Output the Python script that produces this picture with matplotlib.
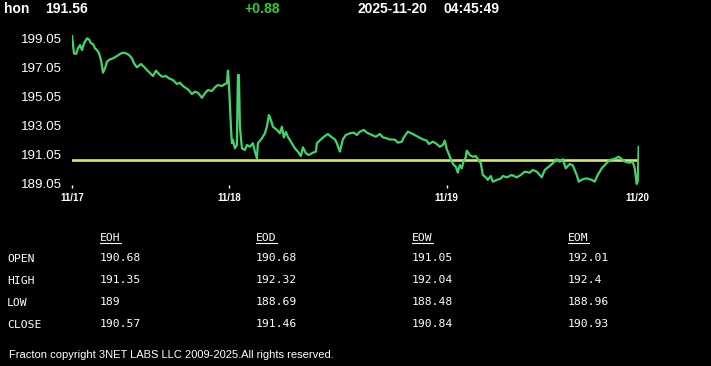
import matplotlib
matplotlib.use('Agg')
import matplotlib.pyplot as plt
from matplotlib.lines import Line2D

# quote header
symbol = 'hon'
last_price = '191.56'
change = '+0.88'
stamp_date = '2025-11-20'
stamp_time = '04:45:49'
prev_close = 190.68

# intraday series (sample number, price)
samples = [0, 2, 4, 6, 8, 10, 12, 15, 17, 19, 21, 23, 25, 27, 29, 31, 33, 35, 38, 41,
           45, 48, 51, 54, 57, 60, 62, 65, 69, 72, 75, 79, 81, 84, 87, 90, 94, 97, 101, 105,
           108, 111, 116, 120, 123, 126, 130, 133, 136, 140, 143, 146, 150, 153, 155, 156, 157, 159, 160, 161,
           163, 165, 166, 167, 168, 170, 173, 175, 178, 181, 183, 185, 186, 190, 193, 195, 197, 199, 201, 205,
           208, 210, 212, 214, 216, 220, 223, 226, 229, 231, 234, 237, 241, 244, 245, 249, 252, 256, 260, 263,
           265, 268, 271, 274, 278, 282, 285, 288, 292, 295, 300, 304, 308, 311, 315, 318, 323, 326, 330, 332,
           336, 341, 346, 351, 355, 357, 361, 364, 368, 371, 373, 375, 377, 380, 382, 384, 386, 388, 390, 392,
           394, 395, 398, 401, 404, 406, 409, 411, 414, 416, 419, 421, 425, 429, 431, 435, 440, 445, 449, 453,
           458, 461, 465, 470, 473, 477, 481, 485, 488, 491, 494, 498, 501, 505, 507, 511, 515, 520, 523, 526,
           530, 534, 538, 542, 547, 551, 554, 558, 561, 563, 565, 566, 567]
price = [199.21, 198.02, 197.97, 198.36, 198.59, 198.24, 198.71, 199.05, 198.98, 198.71,
         198.66, 198.36, 198.24, 198.02, 197.55, 196.68, 196.98, 197.44, 197.60, 197.67,
         197.83, 197.97, 198.06, 198.02, 197.90, 197.67, 197.33, 197.05, 197.28, 197.09,
         196.86, 196.59, 196.45, 196.82, 196.59, 196.40, 196.45, 196.29, 196.17, 195.90,
         195.99, 195.76, 195.53, 195.21, 195.37, 195.30, 194.95, 195.26, 195.48, 195.42,
         195.67, 195.83, 195.76, 195.90, 195.95, 196.82, 195.95, 192.95, 191.81, 192.04,
         191.46, 191.69, 196.52, 196.52, 192.95, 191.46, 191.35, 191.69, 191.57, 191.81,
         191.23, 190.77, 191.81, 192.15, 192.50, 192.95, 193.76, 193.42, 192.95, 192.73,
         192.50, 192.95, 192.21, 192.59, 192.26, 191.81, 191.46, 191.23, 190.93, 191.53,
         191.12, 191.00, 191.16, 191.23, 191.81, 192.08, 192.26, 192.45, 192.22, 192.08,
         191.81, 191.23, 192.08, 192.38, 192.50, 192.54, 192.38, 192.61, 192.73, 192.54,
         192.38, 192.26, 192.45, 192.22, 192.15, 192.07, 192.06, 191.85, 191.92, 192.22,
         192.61, 192.45, 192.26, 192.08, 191.99, 191.76, 191.92, 191.81, 191.57, 191.69,
         191.99, 191.39, 191.07, 190.54, 190.31, 190.19, 189.78, 190.31, 190.08, 190.61,
         190.84, 191.30, 191.00, 190.88, 190.93, 190.71, 190.43, 189.62, 189.46, 189.28,
         189.55, 189.16, 189.28, 189.37, 189.55, 189.46, 189.62, 189.46, 189.62, 189.85,
         189.78, 189.97, 189.85, 189.46, 189.97, 190.19, 190.43, 190.71, 190.54, 190.71,
         190.08, 190.38, 190.29, 189.62, 189.16, 189.33, 189.39, 189.28, 189.16, 189.62,
         190.08, 190.38, 190.66, 190.71, 190.88, 190.66, 190.52, 190.47, 190.54, 190.08,
         189.00, 189.16, 191.56]

day_ticks = [0, 157, 375, 566]
day_labels = ['11/17', '11/18', '11/19', '11/20']
price_ticks = [189.05, 191.05, 193.05, 195.05, 197.05, 199.05]

# summary table
col_names = ['EOH', 'EOD', 'EOW', 'EOM']
row_names = ['OPEN', 'HIGH', 'LOW', 'CLOSE']
table_vals = [['190.68', '190.68', '191.05', '192.01'],
              ['191.35', '192.32', '192.04', '192.4'],
              ['189', '188.69', '188.48', '188.96'],
              ['190.57', '191.46', '190.84', '190.93']]

W, H = 711, 366
fig = plt.figure(figsize=(W / 100, H / 100), dpi=100, facecolor='black')

# plot area in pixels: x 72..638.7, y 33..185 (from top)
ax = fig.add_axes([72 / W, 1 - 185 / H, 566.7 / W, 152 / H])
ax.set_facecolor('black')
ax.plot(samples, price, color='#44d36c', lw=1.6, zorder=3)
ax.axhline(prev_close, color='#d6e67c', lw=1.9, zorder=2)
ax.set_xlim(0, 567)
ax.set_ylim(188.93, 199.42)
for s in ax.spines.values():
    s.set_visible(False)

ax.set_yticks(price_ticks)
ax.set_yticklabels(['%.2f' % v for v in price_ticks], fontfamily='Liberation Sans',
                   fontsize=9.6, color='white')
ax.tick_params(axis='y', length=0, pad=7)
ax.set_xticks(day_ticks)
ax.set_xticklabels(day_labels, fontfamily='Liberation Sans', fontsize=7,
                   fontweight='bold', color='white')
ax.tick_params(axis='x', length=2.5, width=1, color='white', pad=3.5)
ax.xaxis.get_major_ticks()[-1].tick1line.set_visible(False)


def fy(py):
    return 1 - py / H


# header line
hdr = dict(fontfamily='Liberation Sans', fontsize=10, fontweight='bold', va='center')
fig.text(4 / W, fy(9), symbol, color='white', **hdr)
fig.text(45 / W, fy(9), last_price, color='white', **hdr)
fig.text(244 / W, fy(9), change, color='#33cc33', **hdr)
fig.text(358 / W, fy(9), stamp_date, color='white', **hdr)
fig.text(444 / W, fy(9), stamp_time, color='white', **hdr)

# table
mono = dict(fontfamily='DejaVu Sans Mono', fontsize=8.2, color='white', va='center')
col_x = [100, 256, 412, 568]
row_y = [258, 280, 302, 324]
heads = []
for cx, name in zip(col_x, col_names):
    heads.append(fig.text(cx / W, fy(238), name, **mono))
for ry, rname, vals in zip(row_y, row_names, table_vals):
    fig.text(7 / W, fy(ry + 1.5), rname, **mono)
    for cx, v in zip(col_x, vals):
        fig.text(cx / W, fy(ry), v, **mono)

fig.text(9 / W, fy(355), 'Fracton copyright 3NET LABS LLC 2009-2025.All rights reserved.',
         fontfamily='Liberation Sans', fontsize=8, color='white', va='center')

# underline the column headers
fig.canvas.draw()
for t in heads:
    bb = t.get_window_extent()
    yl = (bb.y0 - 0.5) / H
    fig.add_artist(Line2D([bb.x0 / W, bb.x1 / W], [yl, yl], color='white', lw=0.8))

fig.savefig('out.png', dpi=100, facecolor='black')
